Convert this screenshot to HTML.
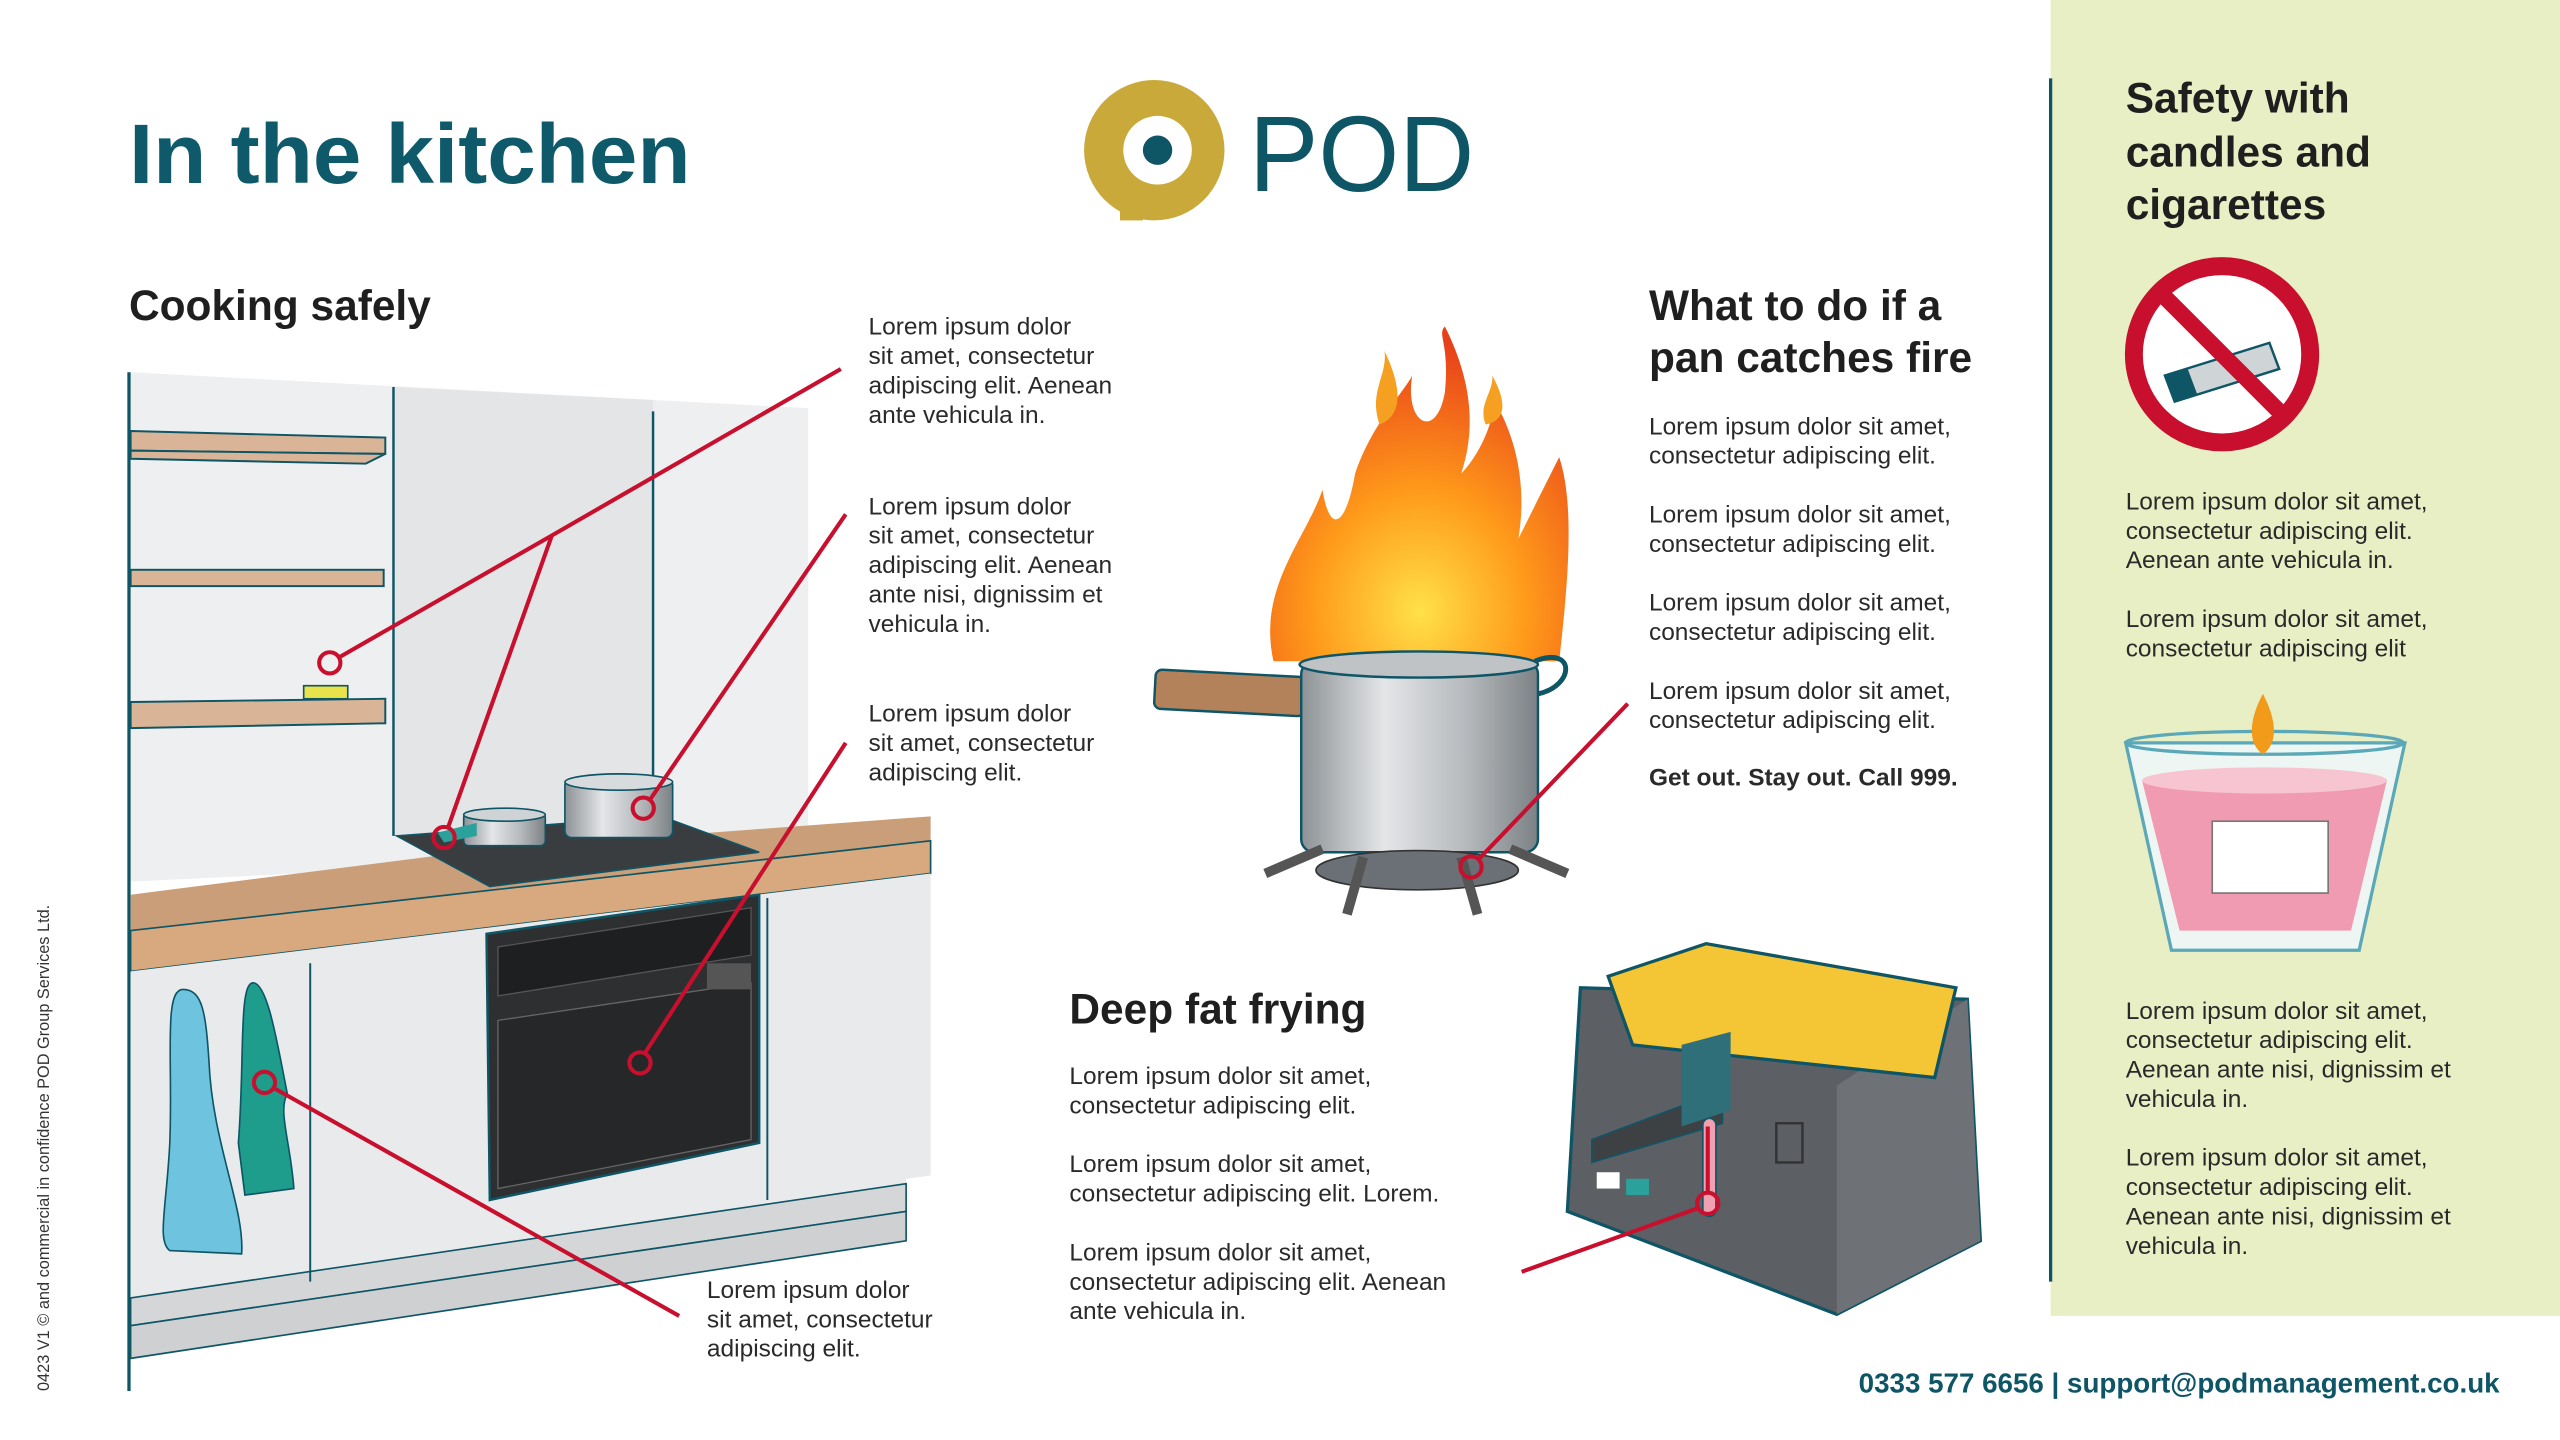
<!DOCTYPE html>
<html><head><meta charset="utf-8"><style>
html,body{margin:0;padding:0;background:#fff;}
svg{display:block;}
text{font-family:"Liberation Sans",sans-serif;}
.b{font-size:15px;fill:#2a2a2a;}
.h{font-size:26px;font-weight:bold;fill:#1f1f1f;}
</style></head><body>
<svg width="2560" height="1440" viewBox="0 0 1568 882" xmlns="http://www.w3.org/2000/svg">
<defs>
<linearGradient id="pot" x1="0" x2="1"><stop offset="0" stop-color="#8d9296"/><stop offset=".35" stop-color="#e4e6e8"/><stop offset=".7" stop-color="#b5b9bc"/><stop offset="1" stop-color="#7c8185"/></linearGradient>
<radialGradient id="fl" cx=".5" cy=".85" r=".8"><stop offset="0" stop-color="#ffe14a"/><stop offset=".45" stop-color="#ff9a1a"/><stop offset="1" stop-color="#e8401a"/></radialGradient>
</defs>
<rect width="1568" height="882" fill="#fff"/>
<!-- right panel -->
<rect x="1256" y="0" width="312" height="806" fill="#e8efc4"/>
<line x1="1256" y1="48" x2="1256" y2="785" stroke="#0e5566" stroke-width="2"/>
<!-- title -->
<text x="79" y="112" font-size="52" font-weight="bold" fill="#0e5a6b" textLength="344" lengthAdjust="spacingAndGlyphs">In the kitchen</text>
<!-- logo -->
<circle cx="707" cy="92" r="43" fill="#c9a93a"/>
<rect x="686" y="92" width="14" height="43" fill="#c9a93a"/>
<circle cx="709" cy="92" r="21" fill="#fff"/>
<circle cx="709" cy="92" r="9" fill="#0e5566"/>
<text x="765" y="117" font-size="66" fill="#0e5566" textLength="138" lengthAdjust="spacingAndGlyphs">POD</text>
<!-- headings -->
<text x="79" y="196" class="h">Cooking safely</text>
<text x="1010" y="196" class="h">What to do if a</text>
<text x="1010" y="228" class="h">pan catches fire</text>
<text x="655" y="627" class="h">Deep fat frying</text>
<text class="h" fill="#1f1f1f"><tspan x="1302" y="69">Safety with</tspan><tspan x="1302" y="102">candles and</tspan><tspan x="1302" y="134">cigarettes</tspan></text>
<!-- body text -->
<text class="b"><tspan x="532" y="205">Lorem ipsum dolor</tspan><tspan x="532" y="223">sit amet, consectetur</tspan><tspan x="532" y="241">adipiscing elit. Aenean</tspan><tspan x="532" y="259">ante vehicula in.</tspan></text>
<text class="b"><tspan x="532" y="315">Lorem ipsum dolor</tspan><tspan x="532" y="333">sit amet, consectetur</tspan><tspan x="532" y="351">adipiscing elit. Aenean</tspan><tspan x="532" y="369">ante nisi, dignissim et</tspan><tspan x="532" y="387">vehicula in.</tspan></text>
<text class="b"><tspan x="532" y="442">Lorem ipsum dolor</tspan><tspan x="532" y="460">sit amet, consectetur</tspan><tspan x="532" y="478">adipiscing elit.</tspan></text>
<text class="b"><tspan x="433" y="795">Lorem ipsum dolor</tspan><tspan x="433" y="813">sit amet, consectetur</tspan><tspan x="433" y="831">adipiscing elit.</tspan></text>
<text class="b"><tspan x="1010" y="266">Lorem ipsum dolor sit amet,</tspan><tspan x="1010" y="284">consectetur adipiscing elit.</tspan><tspan x="1010" y="320">Lorem ipsum dolor sit amet,</tspan><tspan x="1010" y="338">consectetur adipiscing elit.</tspan><tspan x="1010" y="374">Lorem ipsum dolor sit amet,</tspan><tspan x="1010" y="392">consectetur adipiscing elit.</tspan><tspan x="1010" y="428">Lorem ipsum dolor sit amet,</tspan><tspan x="1010" y="446">consectetur adipiscing elit.</tspan></text>
<text x="1010" y="481" class="b" font-weight="bold" fill="#111">Get out. Stay out. Call 999.</text>
<text class="b"><tspan x="655" y="664">Lorem ipsum dolor sit amet,</tspan><tspan x="655" y="682">consectetur adipiscing elit.</tspan><tspan x="655" y="718">Lorem ipsum dolor sit amet,</tspan><tspan x="655" y="736">consectetur adipiscing elit. Lorem.</tspan><tspan x="655" y="772">Lorem ipsum dolor sit amet,</tspan><tspan x="655" y="790">consectetur adipiscing elit. Aenean</tspan><tspan x="655" y="808">ante vehicula in.</tspan></text>
<text class="b"><tspan x="1302" y="312">Lorem ipsum dolor sit amet,</tspan><tspan x="1302" y="330">consectetur adipiscing elit.</tspan><tspan x="1302" y="348">Aenean ante vehicula in.</tspan><tspan x="1302" y="384">Lorem ipsum dolor sit amet,</tspan><tspan x="1302" y="402">consectetur adipiscing elit</tspan></text>
<text class="b"><tspan x="1302" y="624">Lorem ipsum dolor sit amet,</tspan><tspan x="1302" y="642">consectetur adipiscing elit.</tspan><tspan x="1302" y="660">Aenean ante nisi, dignissim et</tspan><tspan x="1302" y="678">vehicula in.</tspan><tspan x="1302" y="714">Lorem ipsum dolor sit amet,</tspan><tspan x="1302" y="732">consectetur adipiscing elit.</tspan><tspan x="1302" y="750">Aenean ante nisi, dignissim et</tspan><tspan x="1302" y="768">vehicula in.</tspan></text>
<text x="1531" y="853" text-anchor="end" font-size="17" font-weight="bold" fill="#0e5566">0333 577 6656 | support@podmanagement.co.uk</text>
<text transform="translate(30,852) rotate(-90)" font-size="10" fill="#333">0423 V1 © and commercial in confidence POD Group Services Ltd.</text>

<!-- KITCHEN -->
<polygon points="80,228 495,250 495,520 80,540" fill="#eeeff0"/>
<polygon points="241,237 400,245 400,505 241,512" fill="#e4e5e6"/>
<line x1="79" y1="228" x2="79" y2="852" stroke="#0e5566" stroke-width="2"/>
<line x1="241" y1="237" x2="241" y2="512" stroke="#0e5566" stroke-width="1.5"/>
<line x1="400" y1="252" x2="400" y2="505" stroke="#0e5566" stroke-width="1.5"/>
<g fill="#d9b496" stroke="#0e5566" stroke-width="1.2">
<polygon points="80,264 236,268 236,278 80,276"/><polygon points="80,276 236,278 224,284 80,281"/>
<rect x="80" y="349" width="155" height="10"/>
<polygon points="80,430 236,428 236,443 80,446"/>
</g>
<rect x="186" y="420" width="27" height="8" fill="#e8e34a" stroke="#0e5566" stroke-width="1"/>
<!-- counter -->
<polygon points="80,548 300,520 570,500 570,535 80,595" fill="#c99e78"/>
<polygon points="80,570 570,515 570,535 80,595" fill="#d8a87e" stroke="#0e5566" stroke-width="1"/>
<!-- cabinets -->
<polygon points="80,595 570,535 570,720 555,722 555,742 80,812" fill="#e9eaeb"/>
<polygon points="80,812 555,742 555,725 80,795" fill="#d5d6d8" stroke="#0e5566" stroke-width="1"/>
<polygon points="80,812 555,742 555,760 80,832" fill="#cfd0d2" stroke="#0e5566" stroke-width="1"/>
<line x1="190" y1="590" x2="190" y2="785" stroke="#0e5566" stroke-width="1.2"/>
<line x1="470" y1="550" x2="470" y2="735" stroke="#0e5566" stroke-width="1.2"/>
<!-- oven -->
<polygon points="298,572 465,548 465,700 300,735" fill="#2e2f31" stroke="#0e5566" stroke-width="1.5"/>
<polygon points="305,580 460,556 460,585 305,610" fill="#1e1f20" stroke="#555" stroke-width="0.8"/>
<polygon points="305,625 460,602 460,698 305,728" fill="#262728" stroke="#666" stroke-width="0.8"/>
<rect x="433" y="590" width="27" height="16" fill="#555"/>
<!-- hob -->
<polygon points="243,512 405,500 465,522 300,543" fill="#3a3d40" stroke="#0e5566" stroke-width="1"/>
<!-- pots -->
<rect x="284" y="498" width="50" height="20" rx="3" fill="url(#pot)" stroke="#0e5566" stroke-width="1"/>
<ellipse cx="309" cy="499" rx="25" ry="4" fill="#cfd3d6" stroke="#0e5566" stroke-width="1"/>
<polygon points="268,510 292,504 292,512 272,516" fill="#2aa19a"/>
<rect x="346" y="477" width="66" height="36" rx="4" fill="url(#pot)" stroke="#0e5566" stroke-width="1"/>
<ellipse cx="379" cy="479" rx="33" ry="5" fill="#d8dbdd" stroke="#0e5566" stroke-width="1"/>
<!-- towels -->
<path d="M112,606 C100,606 106,650 104,700 C102,740 96,760 104,766 L148,768 C150,740 130,700 128,650 C126,620 124,606 112,606Z" fill="#6ec3df" stroke="#0e5566" stroke-width="1"/>
<path d="M155,602 C146,602 150,650 146,700 L150,732 L180,728 C178,700 170,680 176,670 C170,640 164,602 155,602Z" fill="#1e9c8c" stroke="#0e5566" stroke-width="1"/>

<!-- FIRE PAN -->
<path d="M780,405 C770,360 800,330 810,300 C815,330 825,320 830,290 C840,260 860,240 865,230 C860,260 880,270 885,240 C888,210 880,205 885,200 C900,230 905,260 895,290 C905,280 915,260 915,245 C930,270 935,300 930,330 C940,310 950,290 955,280 C965,310 960,360 955,405Z" fill="url(#fl)"/>
<path d="M845,260 C838,240 850,230 848,215 C860,240 858,255 845,260Z M910,260 C905,248 915,240 914,230 C925,250 920,258 910,260Z" fill="#f5a020"/>
<rect x="708" y="410" width="92" height="24" rx="4" fill="#b4825a" stroke="#0e5566" stroke-width="1.5" transform="rotate(3 708 410)"/>
<rect x="797" y="405" width="145" height="117" rx="8" fill="url(#pot)" stroke="#0e5566" stroke-width="1.5"/>
<ellipse cx="869" cy="407" rx="73" ry="8" fill="#bfc3c6" stroke="#0e5566" stroke-width="1.5"/>
<path d="M940,405 C965,395 965,420 942,425" fill="none" stroke="#0e5566" stroke-width="3"/>
<ellipse cx="868" cy="533" rx="62" ry="12" fill="#6a7075" stroke="#333" stroke-width="1"/>
<path d="M775,535 L810,520 M960,535 L925,520 M825,560 L835,525 M905,560 L895,525" stroke="#555" stroke-width="6"/>

<!-- FRYER -->
<polygon points="968,605 1205,612 1213,760 1125,805 960,742" fill="#5c5f63" stroke="#0e5566" stroke-width="2"/>
<polygon points="1125,805 1213,760 1205,612 1125,665" fill="#6e7175"/>
<polygon points="985,598 1045,578 1198,605 1185,660 1000,640" fill="#f4c534" stroke="#0e5566" stroke-width="2"/>
<polygon points="975,698 1055,668 1055,688 975,712" fill="#3e4144" stroke="#0e5566" stroke-width="1"/>
<polygon points="1030,640 1060,632 1060,680 1030,690" fill="#2f6f7a"/>
<rect x="1043" y="685" width="8" height="60" rx="4" fill="#f0a0b0" stroke="#0e5566" stroke-width="1"/>
<rect x="978" y="718" width="14" height="10" fill="#fff"/><rect x="996" y="722" width="14" height="10" fill="#2aa19a"/>
<rect x="1088" y="688" width="16" height="24" fill="none" stroke="#333" stroke-width="1.5"/>

<!-- NO SMOKING -->
<circle cx="1361" cy="217" r="54" fill="#fff" stroke="#c8102e" stroke-width="11"/>
<polygon points="1326,230 1390,210 1396,226 1332,246" fill="#cfd4d6" stroke="#0e5566" stroke-width="1.5"/>
<polygon points="1326,230 1340,226 1346,242 1332,246" fill="#0e5566"/>
<line x1="1323" y1="179" x2="1399" y2="255" stroke="#c8102e" stroke-width="10"/>

<!-- CANDLE -->
<polygon points="1302,455 1473,455 1445,582 1330,582" fill="#eef6f3" stroke="#5ba8b8" stroke-width="2"/>
<polygon points="1312,478 1462,478 1440,570 1335,570" fill="#f19bb3"/>
<ellipse cx="1387" cy="478" rx="75" ry="8" fill="#f7c4d2"/>
<rect x="1355" y="503" width="71" height="44" fill="#fff" stroke="#777" stroke-width="1"/>
<ellipse cx="1387" cy="455" rx="85" ry="7" fill="none" stroke="#5ba8b8" stroke-width="2"/>
<path d="M1386,425 C1378,440 1376,455 1386,462 C1396,455 1394,440 1386,425Z" fill="#f29a1a"/>

<!-- RED CALLOUTS -->
<g stroke="#c8102e" stroke-width="2.5" fill="none">
<polyline points="515,226 338,328 207,403"/>
<line x1="338" y1="328" x2="274" y2="508"/>
<line x1="518" y1="315" x2="398" y2="490"/>
<line x1="518" y1="455" x2="395" y2="645"/>
<line x1="416" y1="806" x2="167" y2="666"/>
<line x1="997" y1="431" x2="905" y2="527"/>
<line x1="932" y1="779" x2="1040" y2="740"/>
<line x1="1046" y1="690" x2="1046" y2="730"/>
<circle cx="202" cy="406" r="6.5"/><circle cx="272" cy="513" r="6.5"/><circle cx="394" cy="495" r="6.5"/>
<circle cx="392" cy="651" r="6.5"/><circle cx="162" cy="663" r="6.5"/><circle cx="901" cy="531" r="6.5"/><circle cx="1046" cy="737" r="6.5"/>
</g>
</svg>
</body></html>
